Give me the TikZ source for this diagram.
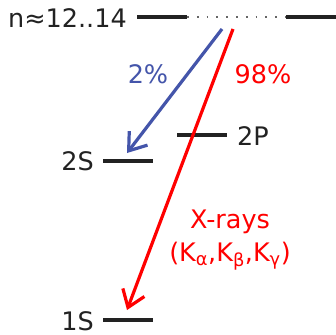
\documentclass[tikz,border=0pt]{standalone}
\usepackage{fontspec}
\setmainfont{DejaVu Sans}
\usepackage{xcolor}
\usetikzlibrary{arrows.meta}
\definecolor{augblue}{RGB}{68,85,170}
\definecolor{lvlgray}{RGB}{34,34,34}
\tikzset{
  % an energy level
  lvl/.style   = {line width=3.4pt, lvlgray},
  % the gap in the high-n level
  gap/.style   = {line width=1.8pt, gray!80!black, dash pattern=on 1.8pt off 8pt},
  % a level label
  lab/.style   = {font=\fontsize{25.5}{30}\selectfont, text=lvlgray, inner sep=0pt},
  % a transition
  tr/.style    = {line width=3.2pt,
                  -{Straight Barb[length=16pt,width=23pt,line width=3.2pt]}},
  % a transition label
  el/.style    = {font=\fontsize{25.5}{30}\selectfont, inner sep=0pt, align=center},
}
\begin{document}
\begin{tikzpicture}[x=1pt, y=-1pt]
  \useasboundingbox (0,0) rectangle (336,334);
  % levels
  \coordinate (nA) at (137,17);
  \coordinate (nB) at (187,17);
  \coordinate (nC) at (286,17);
  \coordinate (nD) at (336,17);
  \coordinate (pA) at (177,135);
  \coordinate (pB) at (227,135);
  \coordinate (sA) at (103,161);
  \coordinate (sB) at (153,161);
  \coordinate (oA) at (103,320);
  \coordinate (oB) at (153,320);
  \draw[lvl] (nA) -- (nB);
  \draw[gap] (nB) -- (nC);
  \draw[lvl] (nC) -- (nD);
  \draw[lvl] (pA) -- (pB);
  \draw[lvl] (sA) -- (sB);
  \draw[lvl] (oA) -- (oB);
  \node[lab, anchor=east] (nlab) at (127,18) {n≈12..14};
  \node[lab, anchor=west] (plab) at (237,136) {2P};
  \node[lab, anchor=east] (slab) at (94,161) {2S};
  \node[lab, anchor=east] (olab) at (94,321) {1S};
  % transitions
  \coordinate (bfrom) at (222,29);
  \coordinate (bto)   at (127,153);
  \coordinate (rfrom) at (233,29);
  \coordinate (rto)   at (127,310);
  \draw[tr, augblue] (bfrom) -- (bto);
  \draw[tr, red] (rfrom) -- (rto);
  \node[el, text=augblue] (auger) at (148,74) {2\%};
  \node[el, text=red] (xfrac) at (263,74) {98\%};
  \node[el, text=red] (xrays) at (230,222) {X-rays};
  \node[el, text=red] (klines) at (230,256)
        {(K\textsubscript{α},K\textsubscript{β},K\textsubscript{γ})};
\end{tikzpicture}
\end{document}
